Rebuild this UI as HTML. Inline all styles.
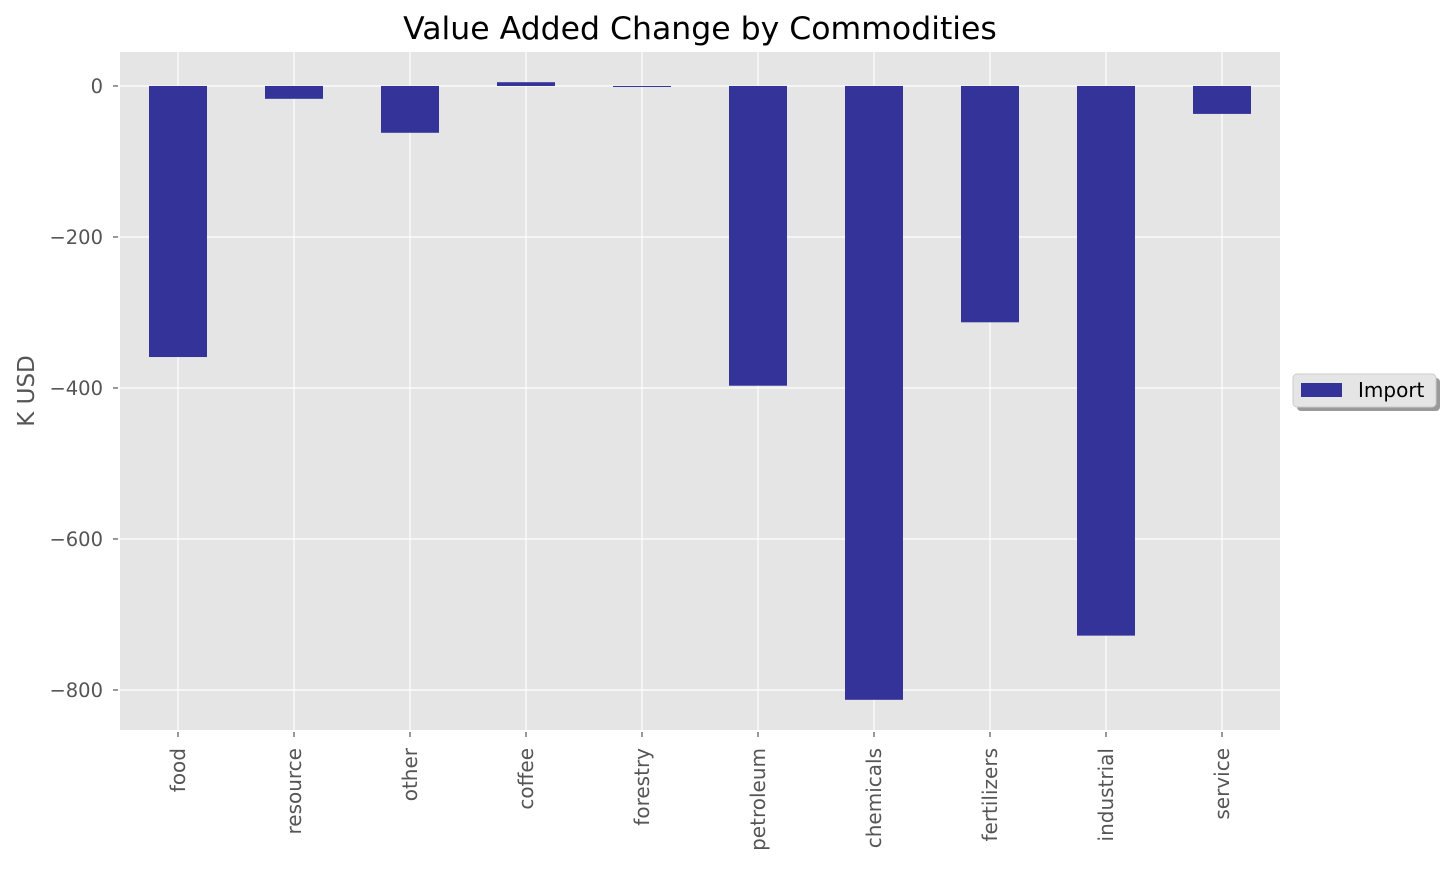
<!DOCTYPE html>
<html><head><meta charset="utf-8"><style>
body{margin:0;background:#fff;}
svg text{font-family:"DejaVu Sans","Liberation Sans",sans-serif;}
</style></head><body>
<svg id="c" width="1451" height="868" xmlns="http://www.w3.org/2000/svg">
<text x="700" y="39" font-size="31.5" text-anchor="middle" fill="#000">Value Added Change by Commodities</text>
<rect x="120" y="52" width="1160" height="678" fill="#e5e5e5"/>
<g id="grid"></g><g id="bars"></g><g id="ticks"></g>
<text transform="translate(34,391) rotate(-90)" font-size="23" text-anchor="middle" fill="#555">K USD</text>
<g>
<rect x="1297" y="378" width="143" height="33" rx="4" fill="#999"/>
<rect x="1293" y="374" width="143" height="33" rx="4" fill="#e5e5e5" stroke="#ccc"/>
<rect x="1301" y="383" width="41" height="14" fill="#333399"/>
<text x="1358" y="397" font-size="20" fill="#000">Import</text>
</g>
</svg>
<script>
const categories=["food","resource","other","coffee","forestry","petroleum","chemicals","fertilizers","industrial","service"];
const importValues=[-359,-17,-62,5,-1,-397,-813,-313,-728,-37];
const yTicks=[0,-200,-400,-600,-800];
const yTickLabels=["0","\u2212200","\u2212400","\u2212600","\u2212800"];
const NS="http://www.w3.org/2000/svg";
const L=120,R=1280,T=52,B=730,yMax=45,yMin=-853;
function y(v){return T+(yMax-v)/(yMax-yMin)*(B-T);}
const step=(R-L)/categories.length;
function x(i){return L+step*(i+0.5);}
function mk(tag,attrs,parent){const e=document.createElementNS(NS,tag);for(const k in attrs)e.setAttribute(k,attrs[k]);document.getElementById(parent).appendChild(e);return e;}
yTicks.forEach((t,i)=>{
  const g=mk('line',{x1:L,x2:R,y1:y(t),y2:y(t),stroke:'#fff','stroke-width':1.2},'grid');
  
  
  const tm=mk('line',{x1:L-7,x2:L-2,y1:y(t),y2:y(t),stroke:'#555','stroke-width':1.2},'ticks');
  
  
  const tx=mk('text',{x:L-17,y:y(t)+7,'font-size':19.5,'text-anchor':'end',fill:'#555'},'ticks');
  tx.textContent=yTickLabels[i];
  
  
});
categories.forEach((c,i)=>{
  const g=mk('line',{x1:x(i),x2:x(i),y1:T,y2:B,stroke:'#fff','stroke-width':1.2},'grid');
  
  
  const tm=mk('line',{x1:x(i),x2:x(i),y1:B+2,y2:B+7,stroke:'#555','stroke-width':1.2},'ticks');
  
  
  const tx=mk('text',{transform:`translate(${x(i)+7},748) rotate(-90)`,'font-size':20,'text-anchor':'end',fill:'#555'},'ticks');
  tx.textContent=c;
  
  
  const v=importValues[i];
  const b=mk('rect',{x:x(i)-step*0.25,width:step*0.5,y:Math.min(y(v),y(0)),height:Math.max(1,Math.abs(y(v)-y(0))),fill:'#333399'},'bars');
  
  
});
</script>
</body></html>
